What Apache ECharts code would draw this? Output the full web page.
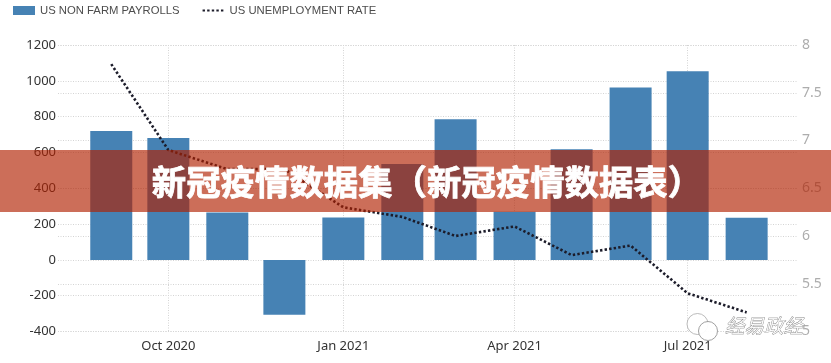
<!DOCTYPE html>
<html>
<head>
<meta charset="utf-8">
<style>
  html, body { margin: 0; padding: 0; background: #fff; }
  #main { width: 831px; height: 363px; }
</style>
<script src="https://cdn.jsdelivr.net/npm/echarts@6/dist/echarts.min.js"></script>
</head>
<body>
<div id="main"></div>
<script>
  // monthly dates, x is a linear scale of ms because months are not equally wide
  const months = ['2020-09-01','2020-10-01','2020-11-01','2020-12-01','2021-01-01','2021-02-01','2021-03-01','2021-04-01','2021-05-01','2021-06-01','2021-07-01','2021-08-01'];
  const payrolls = [720, 680, 265, -306, 237, 536, 785, 269, 618, 962, 1053, 235];
  const unemployment = [7.8, 6.9, 6.7, 6.7, 6.3, 6.2, 6.0, 6.1, 5.8, 5.9, 5.4, 5.2];
  const tickDates = ['2020-10-01','2021-01-01','2021-04-01','2021-07-01'];
  const tickLabels = ['Oct 2020','Jan 2021','Apr 2021','Jul 2021'];
  const titleText = '新冠疫情数据集（新冠疫情数据表）';
  const markText = '经易政经';

  const toTime = s => new Date(s + 'T00:00:00Z').getTime();
  const tickTimes = tickDates.map(toTime);
  const dotted = { color: '#d4d4d4', type: [1, 1.5], width: 1 };

  const chart = echarts.init(document.getElementById('main'));
  chart.setOption({
    animation: false,
    textStyle: { fontFamily: '"Noto Sans", sans-serif' },
    legend: {
      left: 13, top: 5, padding: 0,
      itemWidth: 22, itemHeight: 9, itemGap: 22,
      textStyle: { fontFamily: '"Liberation Sans", sans-serif', fontSize: 11.3, color: '#4d4d4d', padding: [2, 0, 0, 0] },
      data: [
        { name: 'US NON FARM PAYROLLS', icon: 'rect' },
        { name: 'US UNEMPLOYMENT RATE', itemStyle: { opacity: 0 } }
      ]
    },
    grid: { left: 58, right: 33, top: 45, bottom: 31.5 },
    xAxis: {
      type: 'value',
      min: toTime('2020-08-04'),
      max: toTime('2021-08-28'),
      axisLine: { show: false },
      axisTick: { show: false, customValues: tickTimes },
      axisLabel: {
        customValues: tickTimes,
        margin: 8,
        fontSize: 13,
        color: '#333',
        formatter: v => tickLabels[tickTimes.indexOf(v)]
      },
      splitLine: { show: true, lineStyle: dotted }
    },
    yAxis: [
      {
        type: 'value', min: -400, max: 1200, interval: 200,
        axisLine: { show: false }, axisTick: { show: false },
        axisLabel: { margin: 2, fontSize: 13, color: '#333', padding: [3, 0, 0, 0], formatter: v => String(v) },
        splitLine: { lineStyle: dotted }
      },
      {
        type: 'value', min: 5, max: 8, interval: 0.5, position: 'right',
        axisLine: { show: false }, axisTick: { show: false },
        axisLabel: { margin: 4, fontSize: 14, color: '#adadad', padding: [3, 0, 0, 0] },
        splitLine: { lineStyle: dotted }
      }
    ],
    series: [
      {
        name: 'US NON FARM PAYROLLS',
        type: 'bar',
        barWidth: 42,
        itemStyle: { color: '#4682b4' },
        data: months.map((m, i) => [toTime(m), payrolls[i]])
      },
      {
        name: 'US UNEMPLOYMENT RATE',
        type: 'line',
        yAxisIndex: 1,
        symbol: 'none',
        z: 5,
        lineStyle: { color: '#1c1c2a', width: 2.6, type: [2.4, 2.2] },
        data: months.map((m, i) => [toTime(m), unemployment[i]])
      }
    ],
    graphic: [
      {
        type: 'rect', z: 100, silent: true,
        shape: { x: 0, y: 150, width: 831, height: 62 },
        style: { fill: 'rgba(177,33,0,0.65)' }
      },
      {
        type: 'text', z: 101, silent: true,
        x: 427, y: 182,
        style: {
          text: titleText,
          fill: '#fff',
          font: 'bold 34.4px "Noto Sans CJK SC"',
          align: 'center', verticalAlign: 'middle',
          stroke: '#fff', lineWidth: 0.8,
          shadowColor: 'rgba(60,20,10,0.5)', shadowBlur: 3, shadowOffsetY: 1
        }
      },
      // wechat style watermark, bottom right
      {
        type: 'circle', z: 102, silent: true,
        shape: { cx: 697.5, cy: 324, r: 10.5 },
        style: { fill: 'rgba(255,255,255,0.9)', stroke: '#aaa', lineWidth: 0.8 }
      },
      {
        type: 'circle', z: 102, silent: true,
        shape: { cx: 708, cy: 331, r: 9.5 },
        style: { fill: 'rgba(255,255,255,0.95)', stroke: '#888', lineWidth: 0.8 }
      },
      {
        type: 'text', z: 102, silent: true,
        x: 725, y: 326,
        style: {
          text: markText,
          fill: 'rgba(255,255,255,0.7)',
          font: 'italic 19.5px "Noto Sans CJK SC"',
          align: 'left', verticalAlign: 'middle',
          stroke: '#666', lineWidth: 0.5
        }
      }
    ]
  });
</script>
</body>
</html>
